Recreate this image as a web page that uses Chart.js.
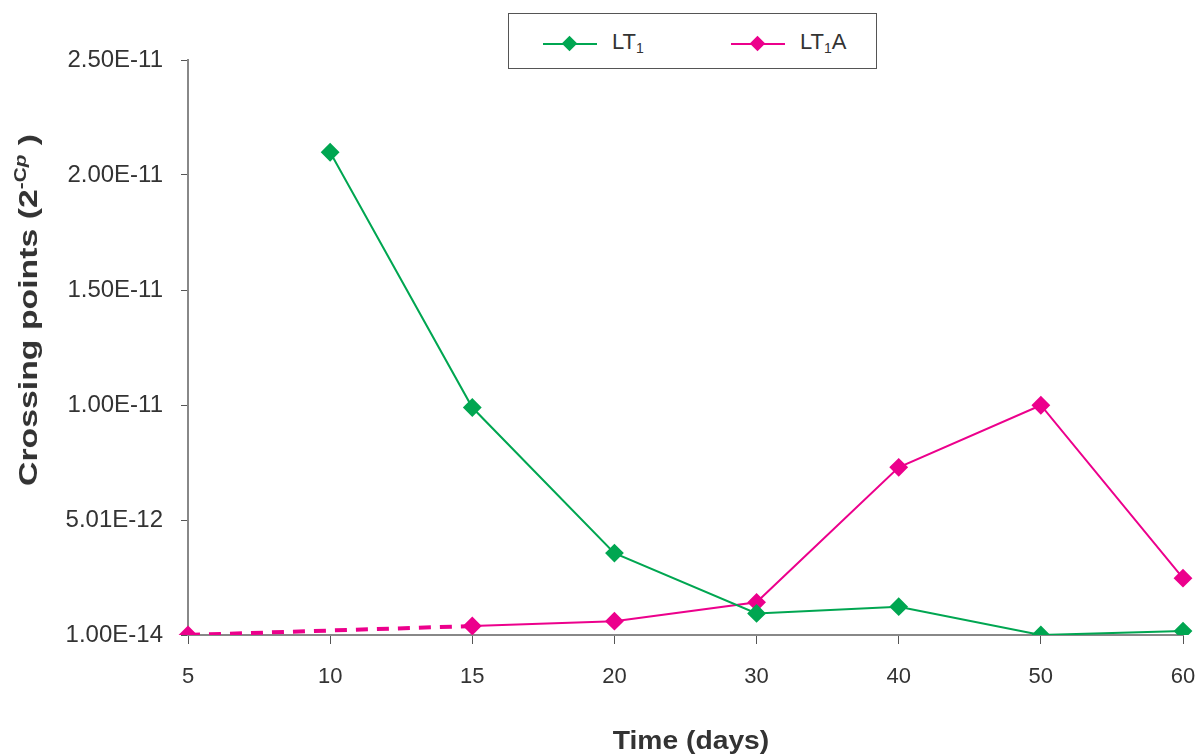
<!DOCTYPE html>
<html>
<head>
<meta charset="utf-8">
<script src="https://cdn.jsdelivr.net/npm/chart.js@4"></script>
<style>
    body { margin: 0; background: #fff; font-family: "Liberation Sans", Arial, sans-serif; }
    #wrap { position: relative; width: 1198px; height: 754px; }
    #legend {
        position: absolute; left: 508px; top: 13px; width: 367px; height: 54px;
        border: 1px solid #555; background: #fff;
    }
    .item { position: absolute; top: 15px; font-size: 22px; color: #333; height: 24px; }
    .item .ln { position: absolute; top: 14px; width: 54px; height: 2px; }
    .item .dm { position: absolute; top: 9px; width: 11px; height: 11px; transform: rotate(45deg); }
    .item .tx { position: absolute; left: 69px; top: 0px; white-space: nowrap; }
    .item sub { font-size: 14px; vertical-align: -4px; }
    #ytitle {
        position: absolute; left: 28px; top: 310px;
        transform: translate(-50%, -50%) rotate(-90deg) scale(1.3, 1);
        font-weight: bold; font-size: 26px; color: #333; white-space: nowrap;
    }
    #ytitle sup { font-size: 16px; vertical-align: 11px; }
    #xtitle {
        position: absolute; left: 691px; top: 740px;
        transform: translate(-50%, -50%) scale(1.13, 1);
        font-weight: bold; font-size: 25px; color: #333; white-space: nowrap;
    }
</style>
</head>
<body>
<div id="wrap">
    <canvas id="lineTes" width="1198" height="754"></canvas>
    <div id="legend">
        <div class="item" style="left:34px">
            <span class="ln" style="background:#00a651"></span>
            <span class="dm" style="background:#00a651; left:21px"></span>
            <span class="tx">LT<sub>1</sub></span>
        </div>
        <div class="item" style="left:222px">
            <span class="ln" style="background:#ec008c"></span>
            <span class="dm" style="background:#ec008c; left:21px"></span>
            <span class="tx">LT<sub>1</sub>A</span>
        </div>
    </div>
    <div id="ytitle">Crossing points (2<sup>-C<i>p</i></sup> )</div>
    <div id="xtitle">Time (days)</div>
</div>
<script>
var days = ["5", "10", "15", "20", "30", "40", "50", "60"];
var lt1 = [null, 2.1e-11, 9.9e-12, 3.57e-12, 0.95e-12, 1.24e-12, 1e-14, 0.18e-12];
var lt1a = [1e-14, null, 0.4e-12, 0.61e-12, 1.43e-12, 7.3e-12, 1.0e-11, 2.48e-12];
var yTicks = [1e-14, 5.01e-12, 1.001e-11, 1.501e-11, 2.001e-11, 2.501e-11];

var green = "#00a651";
var pink = "#ec008c";

function isGapSegment(c) {
    // segment that jumps over the missing day-10 value of LT1A
    return c.p1DataIndex === 2 || c.p0DataIndex === 0;
}

function initLineChart() {
    var ctx = document.getElementById("lineTes").getContext('2d');

    var data = {
        labels: days,
        datasets: [{
            label: "LT1",
            data: lt1,
            borderColor: green,
            backgroundColor: green,
            borderWidth: 2,
            pointStyle: 'rectRot',
            pointRadius: 8,
            spanGaps: true
        }, {
            label: "LT1A",
            data: lt1a,
            borderColor: pink,
            backgroundColor: pink,
            borderWidth: 2,
            pointStyle: 'rectRot',
            pointRadius: 8,
            spanGaps: true,
            segment: {
                borderDash: function (c) { return isGapSegment(c) ? [12, 9] : undefined; },
                borderWidth: function (c) { return isGapSegment(c) ? 4 : undefined; }
            }
        }]
    };

    var options = {
        responsive: false,
        animation: false,
        layout: { padding: { left: 0, right: 15, top: 60, bottom: 0 } },
        plugins: {
            legend: { display: false },
            tooltip: { enabled: false }
        },
        scales: {
            x: {
                type: 'category',
                offset: false,
                afterFit: function (s) {
                    s.height = 119;
                    s.paddingLeft = 0;
                    s.paddingRight = 0;
                },
                border: { color: '#888', width: 2 },
                grid: { drawOnChartArea: false, drawTicks: true, tickLength: 9, color: '#555' },
                ticks: { color: '#333', padding: 20, font: { family: 'Liberation Sans', size: 22 }, maxRotation: 0 }
            },
            y: {
                min: yTicks[0],
                max: yTicks[yTicks.length - 1],
                afterFit: function (s) { s.width = 188; },
                afterBuildTicks: function (s) {
                    s.ticks = yTicks.map(function (v) { return { value: v }; });
                },
                border: { color: '#888', width: 2 },
                grid: { drawOnChartArea: false, drawTicks: true, tickLength: 7, color: '#555' },
                ticks: {
                    color: '#333', padding: 18,
                    font: { family: 'Liberation Sans', size: 24 },
                    callback: function (v) { return Number(v).toExponential(2).toUpperCase(); }
                }
            }
        }
    };

    new Chart(ctx, { type: 'line', data: data, options: options });
}

initLineChart();
</script>
</body>
</html>
